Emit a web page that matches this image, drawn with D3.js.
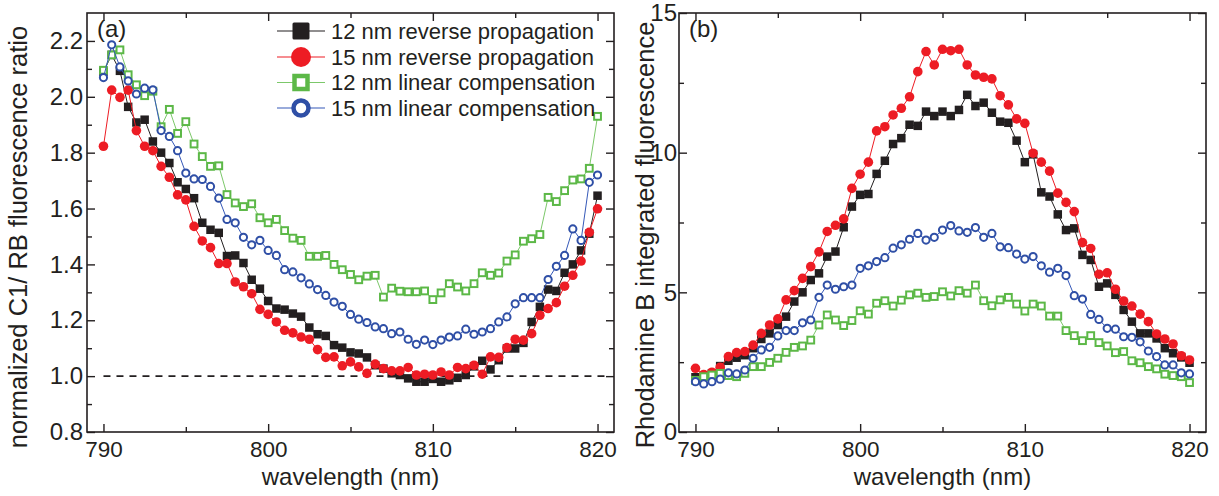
<!DOCTYPE html>
<html><head><meta charset="utf-8">
<script src="https://cdn.jsdelivr.net/npm/d3@7"></script>
<style>
body{margin:0;background:#fff;}
svg text{font-family:"Liberation Sans",Arial,Helvetica,sans-serif;fill:#231f20;}
</style></head>
<body><svg id="chart" width="1219" height="496"></svg>
<script>
const wavelength = [790,790.5,791,791.5,792,792.5,793,793.5,794,794.5,795,795.5,796,796.5,797,797.5,798,798.5,799,799.5,800,800.5,801,801.5,802,802.5,803,803.5,804,804.5,805,805.5,806,806.5,807,807.5,808,808.5,809,809.5,810,810.5,811,811.5,812,812.5,813,813.5,814,814.5,815,815.5,816,816.5,817,817.5,818,818.5,819,819.5,820];

const seriesNames = ["12 nm reverse propagation","15 nm reverse propagation","12 nm linear compensation","15 nm linear compensation"];

// panel (a): normalized C1/RB ratio
const ratio12Reverse = [2.09,2.15,2.093,1.964,1.908,1.918,1.84,1.80,1.763,1.694,1.67,1.637,1.549,1.524,1.513,1.43,1.432,1.405,1.345,1.313,1.269,1.242,1.238,1.224,1.213,1.174,1.15,1.144,1.111,1.102,1.085,1.081,1.067,1.039,1.027,1.01,1.004,0.992,0.98,0.98,0.99,0.98,0.985,0.994,1.004,1.035,1.055,1.024,1.057,1.099,1.099,1.119,1.194,1.248,1.31,1.305,1.37,1.40,1.45,1.51,1.646];
const ratio15Reverse = [1.823,2.024,1.998,2.024,1.879,1.823,1.807,1.751,1.712,1.649,1.631,1.536,1.484,1.46,1.403,1.403,1.337,1.32,1.295,1.239,1.221,1.194,1.164,1.155,1.14,1.132,1.095,1.067,1.069,1.037,1.051,1.033,1.01,1.043,1.027,1.019,1.019,1.031,1.004,1.007,1.004,1.015,1.004,1.031,1.027,1.039,1.007,1.069,1.067,1.102,1.132,1.129,1.152,1.218,1.242,1.263,1.322,1.361,1.412,1.515,1.599];
const ratio12Linear = [2.095,2.15,2.168,2.079,2.043,2.004,2.02,1.893,1.955,1.869,1.911,1.831,1.786,1.751,1.753,1.65,1.62,1.607,1.617,1.567,1.549,1.561,1.521,1.494,1.486,1.429,1.429,1.432,1.40,1.381,1.364,1.345,1.358,1.361,1.283,1.315,1.304,1.302,1.302,1.305,1.274,1.298,1.331,1.319,1.305,1.331,1.37,1.361,1.369,1.412,1.434,1.483,1.492,1.507,1.64,1.625,1.664,1.702,1.706,1.744,1.93];
const ratio15Linear = [2.069,2.186,2.107,2.057,2.01,2.031,2.025,1.879,1.858,1.807,1.727,1.706,1.704,1.679,1.637,1.561,1.549,1.497,1.47,1.486,1.45,1.432,1.381,1.373,1.352,1.33,1.31,1.289,1.265,1.25,1.221,1.204,1.192,1.176,1.17,1.152,1.158,1.132,1.114,1.129,1.113,1.129,1.14,1.144,1.168,1.15,1.158,1.17,1.194,1.212,1.259,1.281,1.281,1.281,1.346,1.393,1.432,1.527,1.486,1.694,1.72];

// panel (b): Rhodamine B integrated fluorescence
const rb12Reverse = [1.96,2.0,2.1,2.36,2.55,2.66,2.75,3.0,3.33,3.53,3.83,4.13,4.67,5.0,5.44,5.68,6.28,6.46,7.33,8.07,8.49,8.52,9.24,9.71,10.31,10.52,11.0,10.96,11.47,11.31,11.47,11.31,11.53,12.07,11.67,11.79,11.43,11.11,11.07,10.43,9.66,9.94,8.58,8.43,7.79,7.23,7.29,6.34,6.16,5.2,5.32,4.91,4.37,3.95,3.53,3.53,3.35,3.0,2.82,2.67,2.48];
const rb15Reverse = [2.28,2.06,2.14,2.32,2.7,2.84,2.88,3.11,3.53,3.83,4.05,4.73,5.06,5.5,5.92,6.45,7.18,7.4,7.63,8.72,9.23,9.66,10.78,10.93,11.35,11.59,12.0,12.9,13.62,13.14,13.7,13.65,13.7,13.14,12.78,12.7,12.64,12.04,11.71,11.21,11.05,9.98,9.66,9.34,8.55,8.22,7.89,6.78,6.57,5.65,5.7,5.11,4.69,4.51,4.22,3.95,3.51,3.33,3.15,2.73,2.58];
const rb12Linear = [1.85,1.98,2.04,2.1,2.02,1.98,2.1,2.34,2.34,2.49,2.64,2.85,3.03,3.08,3.29,3.83,4.19,4.01,3.81,3.99,4.34,4.22,4.61,4.7,4.51,4.72,4.91,4.97,4.82,4.85,5.02,4.87,5.06,4.97,5.26,4.7,4.52,4.73,4.82,4.58,4.33,4.58,4.51,4.15,4.15,3.63,3.45,3.27,3.45,3.2,3.08,2.84,2.88,2.55,2.48,2.34,2.26,2.07,2.02,1.98,1.77];
const rb15Linear = [1.8,1.72,1.8,1.89,2.12,2.08,2.22,2.64,2.94,3.03,3.44,3.63,3.63,3.91,4.01,4.82,5.26,5.11,5.2,5.26,5.86,5.95,6.1,6.24,6.58,6.7,6.9,7.11,6.87,6.97,7.23,7.39,7.2,7.15,7.32,6.97,7.11,6.63,6.6,6.37,6.19,6.28,5.95,5.72,5.86,5.6,4.88,4.76,4.21,4.03,3.71,3.68,3.41,3.39,3.23,2.9,2.7,2.4,2.4,2.12,2.08];

const xTicks = [790,800,810,820];
const xMinorTicks = [795,805,815];
const yTicksA = [0.8,1.0,1.2,1.4,1.6,1.8,2.0,2.2];
const yMinorA = [0.9,1.1,1.3,1.5,1.7,1.9,2.1];
const yTicksB = [0,5,10,15];
const yMinorB = [2.5,7.5,12.5];
const referenceLevel = [1.0];

const styles = [
  {shape:"square", fill:"#231f20", stroke:"none", line:"#231f20", size:8.5, sw:0},
  {shape:"circle", fill:"#ed1c24", stroke:"none", line:"#ed1c24", size:9.6, sw:0},
  {shape:"square", fill:"#fff", stroke:"#5cb847", line:"#7cc86a", size:6.8, sw:2},
  {shape:"circle", fill:"#fff", stroke:"#2f4fa6", line:"#3558b8", size:7.2, sw:2}
];

const svg = d3.select("#chart");
const ink = "#231f20";

function drawPanel(cfg){
  const g = svg.append("g");
  const x = d3.scaleLinear().domain([789,821]).range([cfg.left,cfg.right]);
  const y = d3.scaleLinear().domain(cfg.yDomain).range([cfg.bottom,cfg.top]);

  const ax = (gen, tr, fs) => g.append("g").attr("transform",tr).call(gen)
      .call(s=>s.select(".domain").remove())
      .call(s=>s.selectAll("line").attr("stroke",ink).attr("stroke-width",1.4))
      .call(s=>s.selectAll("text").attr("font-size",fs||22).attr("fill",ink));
  ax(d3.axisBottom(x).tickValues(xTicks).tickSize(-8).tickPadding(9).tickFormat(d3.format("d")), `translate(0,${cfg.bottom})`, 22.5);
  ax(d3.axisBottom(x).tickValues(xMinorTicks).tickSize(-5).tickFormat(""), `translate(0,${cfg.bottom})`);
  ax(d3.axisTop(x).tickValues(xTicks).tickSize(-8).tickFormat(""), `translate(0,${cfg.top})`);
  ax(d3.axisTop(x).tickValues(xMinorTicks).tickSize(-5).tickFormat(""), `translate(0,${cfg.top})`);
  ax(d3.axisLeft(y).tickValues(cfg.yTicks).tickSize(-8).tickPadding(cfg.yPad).tickFormat(cfg.yFmt), `translate(${cfg.left},0)`, 24);
  ax(d3.axisLeft(y).tickValues(cfg.yMinor).tickSize(-5).tickFormat(""), `translate(${cfg.left},0)`);
  ax(d3.axisRight(y).tickValues(cfg.yTicks).tickSize(-8).tickFormat(""), `translate(${cfg.right},0)`);
  ax(d3.axisRight(y).tickValues(cfg.yMinor).tickSize(-5).tickFormat(""), `translate(${cfg.right},0)`);

  if(cfg.refLine){
    g.selectAll(".ref").data(referenceLevel).join("line")
      .attr("x1",x(790)).attr("x2",x(820.6)).attr("y1",d=>y(d)).attr("y2",d=>y(d))
      .attr("stroke",ink).attr("stroke-width",1.6).attr("stroke-dasharray","7,6");
  }

  cfg.series.forEach((vals,si)=>{
    const st = styles[si];
    const pts = wavelength.map((w,i)=>[w,vals[i]]);
    g.append("path").datum(pts)
      .attr("fill","none").attr("stroke",st.line).attr("stroke-width",1)
      .attr("d",d3.line().x(d=>x(d[0])).y(d=>y(d[1])));
    const mk = g.append("g");
    if(st.shape==="square"){
      mk.selectAll("rect").data(pts).join("rect")
        .attr("x",d=>x(d[0])-st.size/2).attr("y",d=>y(d[1])-st.size/2)
        .attr("width",st.size).attr("height",st.size)
        .attr("fill",st.fill).attr("stroke",st.stroke).attr("stroke-width",st.sw);
    } else {
      mk.selectAll("circle").data(pts).join("circle")
        .attr("cx",d=>x(d[0])).attr("cy",d=>y(d[1])).attr("r",st.size/2)
        .attr("fill",st.fill).attr("stroke",st.stroke).attr("stroke-width",st.sw);
    }
  });

  g.append("rect").attr("x",cfg.left).attr("y",cfg.top)
    .attr("width",cfg.right-cfg.left).attr("height",cfg.bottom-cfg.top)
    .attr("fill","none").attr("stroke",ink).attr("stroke-width",1.6);

  g.append("text").attr("x",cfg.left+10).attr("y",37).attr("font-size",24).text(cfg.label);
  g.append("text").attr("x",(cfg.left+cfg.right)/2).attr("y",485)
    .attr("text-anchor","middle").attr("font-size",24).text("wavelength (nm)");
  g.append("text").attr("transform",`translate(${cfg.yTitleX},${cfg.yTitleY}) rotate(-90)`)
    .attr("text-anchor","middle").attr("font-size",25.5).text(cfg.yTitle);
}

drawPanel({left:87,right:614,top:13,bottom:432,yDomain:[0.8,2.3],yTicks:yTicksA,yMinor:yMinorA,
  yPad:4,yFmt:d3.format(".1f"),label:"(a)",refLine:true,
  yTitle:"normalized C1/ RB fluorescence ratio",yTitleX:27,yTitleY:237,
  series:[ratio12Reverse,ratio15Reverse,ratio12Linear,ratio15Linear]});
drawPanel({left:679,right:1206,top:13,bottom:432,yDomain:[0,15],yTicks:yTicksB,yMinor:yMinorB,
  yPad:2,yFmt:d3.format("d"),label:"(b)",refLine:false,
  yTitle:"Rhodamine B integrated fluorescence",yTitleX:654,yTitleY:235,
  series:[rb12Reverse,rb15Reverse,rb12Linear,rb15Linear]});

const legendY = [31,57,82.5,108];
const lg = svg.append("g");
seriesNames.forEach((name,i)=>{
  const st = styles[i], cy = legendY[i];
  lg.append("line").attr("x1",277).attr("x2",325).attr("y1",cy).attr("y2",cy)
    .attr("stroke",st.line).attr("stroke-width",1.2);
  if(i===0) lg.append("rect").attr("x",301-8.5).attr("y",cy-8.5).attr("width",17).attr("height",17).attr("rx",1.5).attr("fill",st.fill);
  if(i===1) lg.append("circle").attr("cx",301).attr("cy",cy).attr("r",10).attr("fill",st.fill);
  if(i===2) lg.append("rect").attr("x",301-6.5).attr("y",cy-6.5).attr("width",13).attr("height",13).attr("fill","#fff").attr("stroke",st.stroke).attr("stroke-width",4.5);
  if(i===3) lg.append("circle").attr("cx",301).attr("cy",cy).attr("r",7.5).attr("fill","#fff").attr("stroke",st.stroke).attr("stroke-width",4.5);
  lg.append("text").attr("x",331).attr("y",cy).attr("dy","0.35em").attr("font-size",22).text(name);
});
</script></body></html>
